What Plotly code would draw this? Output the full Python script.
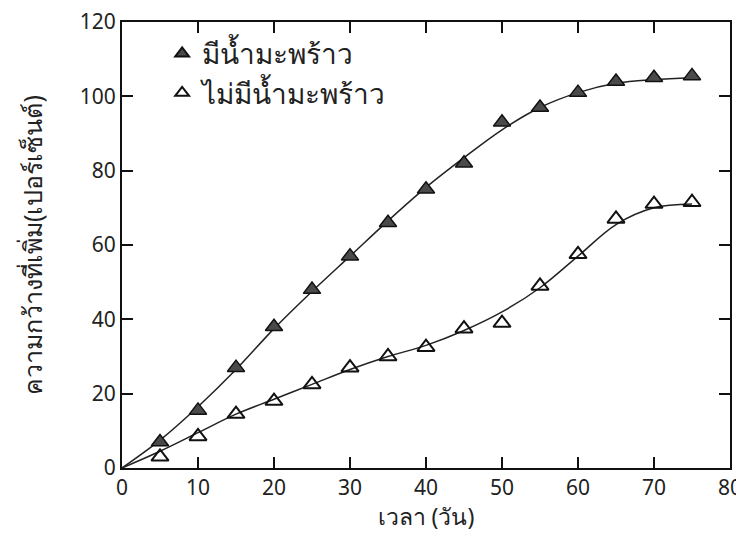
import plotly.graph_objects as go

days = [5, 10, 15, 20, 25, 30, 35, 40, 45, 50, 55, 60, 65, 70, 75]
with_coconut = [7, 15.5, 27, 38, 48, 57, 66, 75, 82, 93, 97, 101, 104, 105, 105.5]
without_coconut = [3, 8.5, 14.5, 18, 22.5, 27, 30, 32.5, 37.5, 39, 49, 57.5, 67, 71, 71.5]

# hand-drawn fitted curves
curve_days = [0, 5, 10, 15, 20, 25, 30, 35, 40, 45, 50, 55, 60, 65, 70, 75]
curve_with = [0, 7.5, 16.5, 26.5, 37.5, 47.5, 57, 66.5, 75.5, 83.5, 91, 97, 101, 103.5, 104.5, 105]
curve_without = [0, 4.5, 9.5, 14.5, 18.5, 22.5, 26.5, 30, 33, 37, 42, 48.5, 57, 65.5, 70, 71]

label_with = "มีน้ำมะพร้าว"
label_without = "ไม่มีน้ำมะพร้าว"
x_title = "เวลา (วัน)"
y_title = "ความกว้างที่เพิ่ม(เปอร์เซ็นต์)"

FONT = "Noto Sans, DejaVu Sans, sans-serif"

fig = go.Figure()
for cy in (curve_with, curve_without):
    fig.add_trace(go.Scatter(x=curve_days, y=cy, mode="lines",
                             line=dict(color="#222", width=1.5, shape="spline", smoothing=1.0),
                             showlegend=False, hoverinfo="skip"))
fig.add_trace(go.Scatter(x=days, y=with_coconut, mode="markers", name=label_with,
                         marker=dict(symbol="triangle-up", size=15, color="#4a4a4a",
                                     line=dict(color="#111", width=1.5))))
fig.add_trace(go.Scatter(x=days, y=without_coconut, mode="markers", name=label_without,
                         marker=dict(symbol="triangle-up-open", size=15, color="#111",
                                     line=dict(color="#111", width=2))))

axis_common = dict(showline=True, linecolor="#111", linewidth=2, mirror="ticks",
                   ticks="inside", ticklen=11, tickwidth=1.5, tickcolor="#111",
                   showgrid=False, zeroline=False, automargin=False,
                   ticklabeloverflow="allow",
                   tickfont=dict(family=FONT, size=21, color="#222"))

fig.update_xaxes(range=[0, 80], dtick=10,
                 title=dict(text=x_title, font=dict(family=FONT, size=23, color="#222"), standoff=2),
                 **axis_common)
fig.update_yaxes(range=[0, 120], dtick=20,
                 title=dict(text=y_title, font=dict(family=FONT, size=25, color="#222"), standoff=30),
                 **axis_common)

# page body has an 8px margin; figure sized/offset so the plot lands where the reference has it
fig.update_layout(
    width=736, height=524,
    margin=dict(l=114, r=14, t=14, b=64),
    paper_bgcolor="white", plot_bgcolor="white",
    font=dict(family=FONT, color="#222"),
    legend=dict(x=0.066, y=0.985, xanchor="left", yanchor="top",
                bgcolor="rgba(0,0,0,0)", font=dict(family=FONT, size=28, color="#222"),
                itemsizing="constant", tracegroupgap=0),
)

fig.write_html("out.html")
